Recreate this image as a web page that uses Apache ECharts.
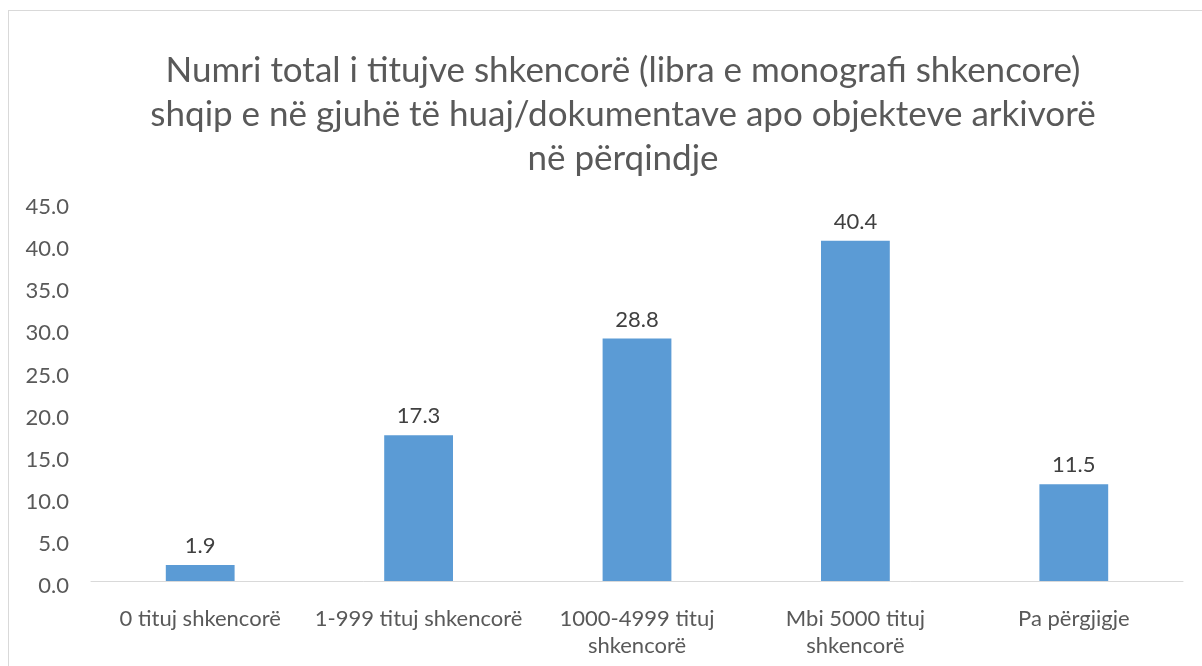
<!DOCTYPE html>
<html><head><meta charset="utf-8">
<script src="https://cdn.jsdelivr.net/npm/echarts@6/dist/echarts.min.js"></script>
<style>html,body{margin:0;padding:0;background:#fff}#c{width:1202px;height:666px}
#frame{position:absolute;left:8px;top:10px;width:1300px;height:800px;border:1px solid #d9d9d9;pointer-events:none}</style>
</head><body><div id="c"></div><div id="frame"></div>
<script>
const titleLines = ["Numri total i titujve shkencorë (libra e monografi shkencore)", "shqip e në gjuhë të huaj/dokumentave apo objekteve arkivorë", "në përqindje"];
const categories = ["0 tituj shkencorë", "1-999 tituj shkencorë", "1000-4999 tituj\nshkencorë", "Mbi 5000 tituj\nshkencorë", "Pa përgjigje"];
const values = [1.9, 17.3, 28.8, 40.4, 11.5];
const chart = echarts.init(document.getElementById('c'));
const font = 'Lato, "Open Sans", sans-serif';
chart.setOption({
  animation: false,
  title: {
    text: titleLines.join('\n'), left: 618, textAlign: 'center', top: 44,
    textStyle: {fontFamily: font, fontSize: 35, fontWeight: 'normal', color: '#595959', lineHeight: 44}
  },
  grid: {left: 91, right: 19, top: 202, bottom: 85},
  xAxis: {
    type: 'category', data: categories,
    axisLine: {lineStyle: {color: '#d9d9d9', width: 1}},
    axisTick: {show: false},
    axisLabel: {fontFamily: font, fontSize: 22, color: '#595959', margin: 24, lineHeight: 27, interval: 0}
  },
  yAxis: {
    type: 'value', min: 0, max: 45, interval: 5,
    axisLine: {show: false}, axisTick: {show: false}, splitLine: {show: false},
    axisLabel: {fontFamily: font, fontSize: 22, color: '#595959', margin: 22, verticalAlign: 'top', lineHeight: 10, formatter: v => v.toFixed(1)}
  },
  series: [{
    type: 'bar', data: values, barWidth: '31.5%',
    itemStyle: {color: '#5b9bd5'},
    label: {show: true, position: 'top', distance: 8, fontFamily: font, fontSize: 22, color: '#404040', formatter: p => p.value.toFixed(1)}
  }]
});
</script></body></html>
